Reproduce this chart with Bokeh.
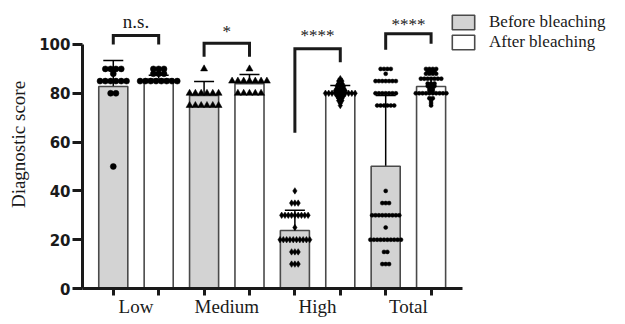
from bokeh.plotting import figure
from bokeh.models import (Range1d, FixedTicker, Whisker, TeeHead, ColumnDataSource,
                          Legend, LegendItem)
from bokeh.embed import file_html
from bokeh.resources import INLINE
from bokeh.core.properties import value

# ---------------- data ----------------
categories = ["Low", "Medium", "High", "Total"]
series = ["Before bleaching", "After bleaching"]

before_mean = [82.8, 79.1, 23.8, 50.1]
after_mean = [85.8, 83.9, 80.2, 82.8]
before_sd = [10.6, 5.7, 8.3, 29.0]
after_sd = [1.6, 3.8, 3.0, 3.4]

low_before = [90, 90, 90, 90, 88, 85, 85, 85, 85, 85, 85, 80, 80, 50]
low_after = [90, 90, 90, 88, 88, 88, 85, 85, 85, 85, 85, 85, 85, 85]
medium_before = [90, 80, 80, 80, 80, 80, 80, 75, 75, 75, 75, 75, 75]
medium_after = [90, 85, 85, 85, 85, 85, 85, 85, 80, 80, 80, 80, 80]
high_before = [40, 35, 35, 35, 30, 30, 30, 30, 30, 30, 30, 30, 30, 25,
               20, 20, 20, 20, 20, 20, 20, 20, 20, 20, 15, 15, 15, 10, 10, 10]
high_after = [86, 85, 85, 84, 84, 83, 83, 83, 82, 82, 82, 81, 81, 81, 81,
              80, 80, 80, 80, 80, 80, 80, 80, 80, 80, 79, 79, 79, 78, 78,
              77, 77, 76, 75]
total_before = [90, 90, 90, 90, 88, 85, 85, 85, 85, 85, 85, 85,
                80, 80, 80, 80, 80, 80, 80, 75, 75, 75, 75, 75, 75,
                40, 35, 35, 35, 30, 30, 30, 30, 30, 30, 30, 30, 30, 25,
                20, 20, 20, 20, 20, 20, 20, 20, 20, 20, 15, 15, 10, 10, 10]
total_after = [90, 90, 90, 90, 89, 89, 89, 88, 88, 88, 88, 86, 86, 86, 86, 86, 86, 86,
               84, 84, 84, 83, 83, 83, 82, 82, 81, 81,
               80, 80, 80, 80, 80, 80, 80, 80, 80, 80, 78, 78, 77, 76, 75]

before_points = [low_before, medium_before, high_before, total_before]
after_points = [low_after, medium_after, high_after, total_after]

sig_labels = ["n.s.", "*", "****", "****"]
yticks = [0, 20, 40, 60, 80, 100]

# ---------------- annotation geometry / style ----------------
bracket_top = [103.7, 100.5, 98.3, 104.4]
bracket_left_end = [100.0, 95.0, 63.8, 97.8]
bracket_right_end = [100.0, 95.0, 92.7, 100.3]
sig_text_y = [109.6, 105.2, 103.5, 108.0]

PX_PER_UNIT = 90.8
OFFSET = 0.25
BAR_W = 0.32
markers = ["circle", "triangle", "diamond", "circle"]
marker_sizes = [6, 7, 6.5, 4]
swarm_px = [5.3, 5.8, 3.3, 3.4]
DARK = "#1a1a1a"
SERIF = "Liberation Serif"

centers = list(range(len(categories)))
xb = [c - OFFSET for c in centers]
xa = [c + OFFSET for c in centers]


def swarm(vals, center, step):
    counts = {}
    for v in vals:
        counts[v] = counts.get(v, 0) + 1
    seen = {}
    xs = []
    for v in vals:
        n = counts[v]
        k = seen.get(v, 0)
        seen[v] = k + 1
        xs.append(center + (k - (n - 1) / 2) * step)
    return xs


p = figure(width=621, height=320,
           x_range=Range1d(-0.589, 5.347), y_range=Range1d(0, 118.03),
           output_backend="svg", toolbar_location=None,
           min_border_left=82, min_border_right=0, min_border_top=0,
           min_border_bottom=32)
p.outline_line_color = None
p.xgrid.visible = False
p.ygrid.visible = False
p.background_fill_color = "white"

rb = p.vbar(x=xb, top=before_mean, width=BAR_W, fill_color="#d3d3d3",
            line_color="#4a4a4a", line_width=1.6)
ra = p.vbar(x=xa, top=after_mean, width=BAR_W, fill_color="white",
            line_color="#4a4a4a", line_width=1.6)

for i in range(len(categories)):
    step = swarm_px[i] / PX_PER_UNIT
    for pts, cx in ((before_points[i], xb[i]), (after_points[i], xa[i])):
        p.scatter(x=swarm(pts, cx, step), y=pts, marker=markers[i],
                  size=marker_sizes[i], fill_color="black", line_color="black",
                  line_width=0.5)

err_src = ColumnDataSource(data=dict(
    base=xb + xa,
    upper=[m + s for m, s in zip(before_mean + after_mean, before_sd + after_sd)],
    lower=[m - s for m, s in zip(before_mean + after_mean, before_sd + after_sd)],
))
p.add_layout(Whisker(source=err_src, base="base", upper="upper", lower="lower",
                     dimension="height", line_color="black", line_width=1.5,
                     upper_head=TeeHead(size=20, line_width=1.5, line_color="black"),
                     lower_head=TeeHead(size=20, line_width=1.5, line_color="black")))

bx = [[c - OFFSET, c - OFFSET, c + OFFSET, c + OFFSET] for c in centers]
by = [[l, t, t, r] for l, t, r in zip(bracket_left_end, bracket_top, bracket_right_end)]
p.multi_line(xs=bx, ys=by, line_color=DARK, line_width=3, line_join="miter")

p.text(x=centers[:1], y=sig_text_y[:1], text=sig_labels[:1],
       text_font=value(SERIF), text_font_size="19px", text_align="center",
       text_baseline="alphabetic", text_color=DARK)
p.text(x=centers[1:], y=sig_text_y[1:], text=sig_labels[1:],
       text_font=value(SERIF), text_font_size="17px", text_align="center",
       text_baseline="alphabetic", text_color=DARK)

# ---------------- axes ----------------
yax = p.yaxis[0]
yax.ticker = FixedTicker(ticks=yticks)
yax.bounds = (0, 100)
yax.axis_line_width = 3
yax.axis_line_color = DARK
yax.major_tick_line_width = 3
yax.major_tick_line_color = DARK
yax.major_tick_out = 10
yax.major_tick_in = 0
yax.minor_tick_line_color = None
yax.major_label_standoff = 2
yax.major_label_text_font = "DejaVu Sans"
yax.major_label_text_font_style = "bold"
yax.major_label_text_font_size = "15px"
yax.major_label_text_color = DARK
yax.axis_label = "Diagnostic score"
yax.axis_label_text_font = SERIF
yax.axis_label_text_font_style = "normal"
yax.axis_label_text_font_size = "19px"
yax.axis_label_text_color = DARK
yax.axis_label_standoff = 7

xax = p.xaxis[0]
xax.ticker = FixedTicker(ticks=centers, minor_ticks=sorted(xb + xa))
xax.major_label_overrides = {c: name for c, name in zip(centers, categories)}
xax.bounds = (-0.589, 3.596)
xax.axis_line_width = 3
xax.axis_line_color = DARK
xax.major_tick_line_color = None
xax.major_tick_out = 0
xax.major_tick_in = 0
xax.minor_tick_line_width = 3
xax.minor_tick_line_color = DARK
xax.minor_tick_out = 7
xax.minor_tick_in = 0
xax.major_label_standoff = 0
xax.major_label_text_font = SERIF
xax.major_label_text_font_size = "19px"
xax.major_label_text_color = DARK

legend = Legend(items=[LegendItem(label=series[0], renderers=[rb]),
                       LegendItem(label=series[1], renderers=[ra])],
                location=(367, 236), orientation="vertical",
                glyph_width=28, glyph_height=18, label_height=18, spacing=0,
                padding=0, margin=0, border_line_color=None,
                background_fill_alpha=0, label_standoff=12,
                label_text_font=SERIF, label_text_font_size="17px",
                label_text_color=DARK)
p.add_layout(legend)

open("out.html", "w").write(file_html(p, INLINE))
